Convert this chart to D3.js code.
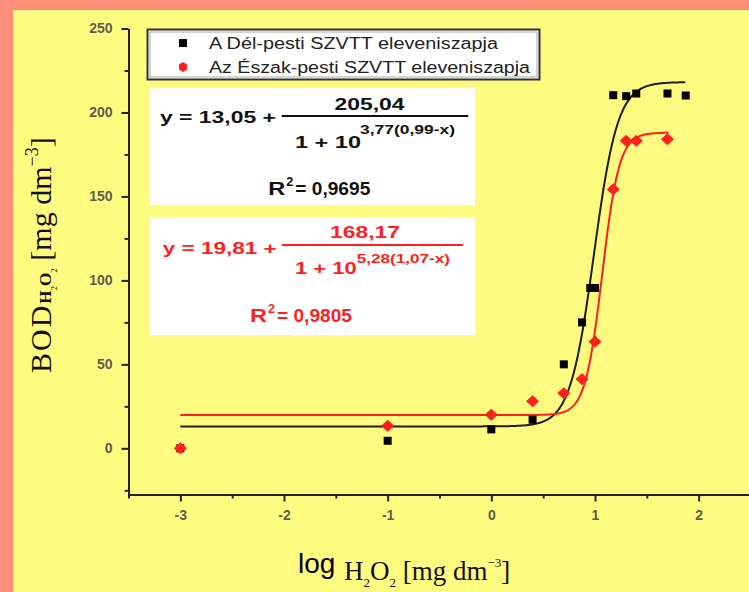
<!DOCTYPE html>
<html>
<head>
<meta charset="utf-8">
<script src="https://cdn.jsdelivr.net/npm/d3@7/dist/d3.min.js"></script>
<style>
  body { margin: 0; background: #fe8e79; }
  svg { display: block; }
</style>
</head>
<body>
<svg id="chart" width="749" height="592"></svg>
<script>
// measured points, x = log H2O2
var delX = [-3, -1, 0, 0.398, 0.699, 0.875, 0.954, 1.0, 1.176, 1.301, 1.398, 1.699, 1.875];
var delY = [0, 4.5, 11.3, 17, 50, 75, 95.5, 95.5, 210.3, 209.7, 211.3, 211.3, 210.1];
var eszakX = [-3, -1, 0, 0.398, 0.699, 0.875, 1.0, 1.176, 1.301, 1.398, 1.699];
var eszakY = [0, 13.4, 20, 28, 32.8, 41.2, 63.5, 154.2, 183.1, 183.1, 184];

// fitted sigmoid: A1, A2-A1, p, log x0
var delFit = [13.05, 205.04, 3.77, 0.99];
var eszakFit = [19.81, 168.17, 5.28, 1.07];
var delR2 = 0.9695;
var eszakR2 = 0.9805;
var delCurveRange = [-3, 1.87];
var eszakCurveRange = [-3, 1.71];

var xTicks = [-3, -2, -1, 0, 1, 2];
var xMinor = [-3.5, -2.5, -1.5, -0.5, 0.5, 1.5];
var yTicks = [0, 50, 100, 150, 200, 250];
var yMinor = [-25, 25, 75, 125, 175, 225];
var legendLabels = ["A Dél-pesti SZVTT eleveniszapja", "Az Észak-pesti SZVTT eleveniszapja"];

var W = 749, H = 592;
var svg = d3.select("#chart");
var sans = "'Liberation Sans', Arial, sans-serif";
var serif = "'Liberation Serif', 'Times New Roman', serif";
var RED = "#ff1f1f";

// background: salmon frame, yellow panel
svg.append("rect").attr("width", W).attr("height", H).attr("fill", "#fe8e79");
svg.append("rect").attr("x", 13).attr("y", 10).attr("width", W - 13).attr("height", H - 10).attr("fill", "#fffb80");

var x = d3.scaleLinear().domain([-3.5, 2.5]).range([128.5, 750.5]);
var y = d3.scaleLinear().domain([-27.5, 250]).range([494.5, 28.5]);

// white boxes for the equations
svg.append("rect").attr("x", 150).attr("y", 88).attr("width", 325).attr("height", 117).attr("fill", "#fff");
svg.append("rect").attr("x", 150).attr("y", 217).attr("width", 325).attr("height", 118).attr("fill", "#fff");

// axes
function styleAxis(g) {
    g.select(".domain").attr("stroke", "#222").attr("stroke-width", 2);
    g.selectAll(".tick line").attr("stroke", "#222").attr("stroke-width", 2);
    g.selectAll(".tick text")
        .attr("font-family", sans)
        .attr("font-size", 14)
        .attr("font-weight", "bold")
        .attr("fill", "#5e5d4e");
}

var gy = svg.append("g").attr("transform", "translate(128.5,0)")
    .call(d3.axisLeft(y).tickValues(yTicks).tickSize(7).tickSizeOuter(0).tickPadding(9));
styleAxis(gy);
var gyMinor = svg.append("g").attr("transform", "translate(128.5,0)")
    .call(d3.axisLeft(y).tickValues(yMinor).tickSize(4).tickFormat(""));
gyMinor.select(".domain").remove();
styleAxis(gyMinor);

var gx = svg.append("g").attr("transform", "translate(0,494.5)")
    .call(d3.axisBottom(x).tickValues(xTicks).tickSize(7).tickSizeOuter(0).tickPadding(9)
        .tickFormat(function (d) { return d; }));
styleAxis(gx);
var gxMinor = svg.append("g").attr("transform", "translate(0,494.5)")
    .call(d3.axisBottom(x).tickValues(xMinor).tickSize(4).tickFormat(""));
gxMinor.select(".domain").remove();
styleAxis(gxMinor);

// fitted curves
function sigmoid(p) {
    return function (v) { return p[0] + p[1] / (1 + Math.pow(10, p[2] * (p[3] - v))); };
}
var line = d3.line().x(function (d) { return x(d[0]); }).y(function (d) { return y(d[1]); });

function drawCurve(p, range, color) {
    var f = sigmoid(p);
    var pts = d3.range(range[0], range[1], 0.005).map(function (v) { return [v, f(v)]; });
    pts.push([range[1], f(range[1])]);
    svg.append("path").datum(pts)
        .attr("d", line)
        .attr("fill", "none")
        .attr("stroke", color)
        .attr("stroke-width", 2);
}
drawCurve(delFit, delCurveRange, "#1e1e1e");
drawCurve(eszakFit, eszakCurveRange, RED);

// markers
var diamond = "M-6,0L0,-5.5L6,0L0,5.5Z";

svg.selectAll(".del").data(delX).enter().append("rect")
    .attr("class", "del")
    .attr("x", function (d) { return x(d) - 4; })
    .attr("y", function (d, i) { return y(delY[i]) - 4; })
    .attr("width", 8).attr("height", 8)
    .attr("fill", "#000");

svg.selectAll(".eszak").data(eszakX).enter().append("path")
    .attr("class", "eszak")
    .attr("d", diamond)
    .attr("transform", function (d, i) { return "translate(" + x(d) + "," + y(eszakY[i]) + ")"; })
    .attr("fill", RED)
    .attr("stroke", RED)
    .attr("stroke-width", 1)
    .attr("stroke-linejoin", "round");

// legend
var lg = svg.append("g");
lg.append("rect").attr("x", 147.5).attr("y", 29.5).attr("width", 392).attr("height", 50)
    .attr("fill", "#fff").attr("stroke", "#333").attr("stroke-width", 2);
lg.append("rect").attr("x", 150).attr("y", 32).attr("width", 387).attr("height", 45)
    .attr("fill", "none").attr("stroke", "#aaa").attr("stroke-width", 1);
lg.append("rect").attr("x", 179).attr("y", 39).attr("width", 8).attr("height", 8).attr("fill", "#000");
lg.append("path").attr("d", "M-4,-2.5L0,-5L4,-2.5L4,2.5L0,5L-4,2.5Z")
    .attr("transform", "translate(183,67)").attr("fill", RED);
var legendLen = [289, 321];
var legendBase = [48.5, 73];
legendLabels.forEach(function (t, i) {
    lg.append("text")
        .attr("x", 209).attr("y", legendBase[i])
        .attr("font-family", sans).attr("font-size", 16)
        .attr("fill", "#222")
        .attr("textLength", legendLen[i]).attr("lengthAdjust", "spacingAndGlyphs")
        .text(t);
});

// equations
function num(v, d) { return d3.format("." + d + "f")(v).replace(".", ","); }

function eqText(str, xx, yy, size, len, color) {
    return svg.append("text")
        .attr("x", xx).attr("y", yy)
        .attr("font-family", sans).attr("font-size", size).attr("font-weight", "bold")
        .attr("fill", color)
        .attr("textLength", len).attr("lengthAdjust", "spacingAndGlyphs")
        .text(str);
}

function drawEquation(p, r2, pos, color) {
    eqText("y = " + num(p[0], 2) + " +", pos.left, pos.main, 17, pos.leftLen, color);
    svg.append("line")
        .attr("x1", 281.7).attr("x2", pos.barEnd)
        .attr("y1", pos.bar).attr("y2", pos.bar)
        .attr("stroke", color).attr("stroke-width", 2);
    eqText(num(p[1], 2), pos.numX, pos.numY, 17, 70, color);
    eqText("1 + 10", 295, pos.denY, 17, pos.denLen, color);
    eqText(num(p[2], 2) + "(" + num(p[3], 2) + "-x)", pos.expX, pos.expY, 12.5, pos.expLen, color);
    eqText("R", pos.rX, pos.rY, 18, 17, color);
    eqText("2", pos.rX + 18, pos.rY - 9, 12, 7, color);
    eqText("= " + num(r2, 4), pos.rX + 27, pos.rY, 18, 75, color);
}

drawEquation(delFit, delR2, {
    left: 160, main: 123, leftLen: 116, bar: 116, barEnd: 468.3,
    numX: 334.5, numY: 110, denY: 148.3, denLen: 66,
    expX: 360, expY: 134.3, expLen: 95, rX: 268.3, rY: 195
}, "#111");

drawEquation(eszakFit, eszakR2, {
    left: 162.7, main: 254.3, leftLen: 114, bar: 245, barEnd: 463.3,
    numX: 330, numY: 238.3, denY: 274.3, denLen: 61.7,
    expX: 356.7, expY: 263.3, expLen: 93.3, rX: 250, rY: 321.7
}, RED);

// y axis title
var yl = svg.append("text")
    .attr("transform", "translate(51,373) rotate(-90)")
    .attr("font-family", serif).attr("font-size", 30).attr("fill", "#111");
yl.append("tspan").attr("letter-spacing", 2).text("BOD");
yl.append("tspan").attr("font-size", 17).attr("font-weight", "bold").text("H");
yl.append("tspan").attr("font-size", 9).attr("dy", 6).text("2");
yl.append("tspan").attr("font-size", 17).attr("font-weight", "bold").attr("dy", -6).text("O");
yl.append("tspan").attr("font-size", 9).attr("dy", 6).text("2");
yl.append("tspan").attr("dy", -6).text(" [mg dm");
yl.append("tspan").attr("font-size", 18).attr("dy", -13).text("\u22123");
yl.append("tspan").attr("dy", 13).text("]");

// x axis title
svg.append("text")
    .attr("x", 298).attr("y", 573)
    .attr("font-family", sans).attr("font-size", 28).attr("fill", "#000")
    .text("log");
var xl = svg.append("text")
    .attr("x", 344).attr("y", 580)
    .attr("font-family", serif).attr("font-size", 27).attr("fill", "#111");
xl.append("tspan").text("H");
xl.append("tspan").attr("font-size", 13).attr("dy", 7).text("2");
xl.append("tspan").attr("dy", -7).text("O");
xl.append("tspan").attr("font-size", 13).attr("dy", 7).text("2");
xl.append("tspan").attr("dy", -7).text(" [mg dm");
xl.append("tspan").attr("font-size", 13).attr("dy", -13).text("\u22123");
xl.append("tspan").attr("dy", 13).text("]");
</script>
</body>
</html>
